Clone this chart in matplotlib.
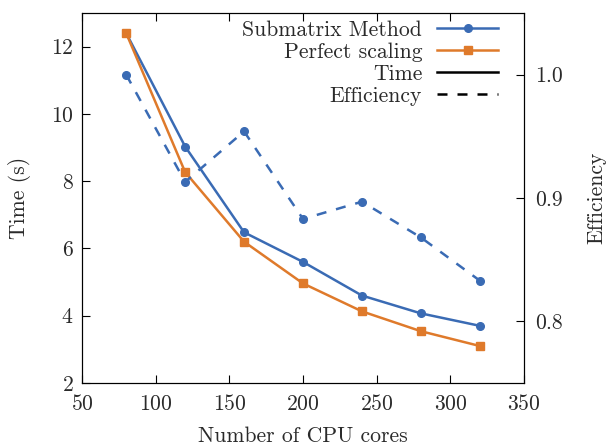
import matplotlib
matplotlib.use("Agg")
from matplotlib import pyplot as plt
from matplotlib.lines import Line2D

# Data
cores = [80, 120, 160, 200, 240, 280, 320]
time_submatrix = [12.4, 9.03, 6.48, 5.60, 4.60, 4.07, 3.70]
time_perfect = [12.4, 8.27, 6.20, 4.96, 4.13, 3.54, 3.10]
efficiency = [1.0, 0.913, 0.954, 0.883, 0.897, 0.868, 0.833]

BLUE = '#3a6bb4'
ORANGE = '#df7a2b'
TEXT = '#2a2a2a'

plt.rcParams['font.family'] = ['cmr10', 'DejaVu Serif']
plt.rcParams['axes.formatter.use_mathtext'] = True
plt.rcParams['font.size'] = 15.6
plt.rcParams['text.color'] = TEXT
plt.rcParams['axes.labelcolor'] = TEXT
plt.rcParams['xtick.labelcolor'] = TEXT
plt.rcParams['ytick.labelcolor'] = TEXT

fig = plt.figure(figsize=(6.11, 4.47), dpi=100)
ax = fig.add_axes([82 / 611, 1 - 383 / 447, (524 - 82) / 611, (383 - 13) / 447])
ax2 = ax.twinx()

# Time (left axis)
ax.plot(cores, time_submatrix, color=BLUE, lw=1.8, marker='o', ms=5.5)
ax.plot(cores, time_perfect, color=ORANGE, lw=1.8, marker='s', ms=5.5)

# Efficiency (right axis)
ax2.plot(cores, efficiency, color=BLUE, lw=1.8, marker='o', ms=5.5, dashes=(4, 4))

ax.set_xlim(50, 350)
ax.set_ylim(2, 13)
ax2.set_ylim(0.75, 1.05)
ax.set_xticks([50, 100, 150, 200, 250, 300, 350])
ax.set_yticks([2, 4, 6, 8, 10, 12])
ax2.set_yticks([0.8, 0.9, 1.0])
ax2.set_yticklabels(['0.8', '0.9', '1.0'])

ax.tick_params(axis='x', direction='in', top=True, length=6, width=0.8, pad=8)
ax.tick_params(axis='y', direction='in', right=False, length=6, width=0.8, pad=6)
ax2.tick_params(axis='y', direction='in', length=6, width=0.8, pad=8)

ax.set_xlabel('Number of CPU cores', labelpad=9)
ax.set_ylabel('Time (s)', labelpad=14)
ax2.set_ylabel('Efficiency', rotation=90, va='center', ha='center',
               rotation_mode='anchor')
ax2.yaxis.set_label_coords(1.165, 0.5)

# Legend: text on the left, sample on the right
handles = [
    Line2D([], [], color=BLUE, lw=1.8, marker='o', ms=5.5),
    Line2D([], [], color=ORANGE, lw=1.8, marker='s', ms=5.5),
    Line2D([], [], color='black', lw=1.8),
    Line2D([], [], color='black', lw=1.8, dashes=(4, 4)),
]
labels = ['Submatrix Method', 'Perfect scaling', 'Time', 'Efficiency']
ax2.legend(handles, labels, loc='upper right', markerfirst=False, frameon=False,
           bbox_to_anchor=(498 / 611, 1 - 20 / 447), bbox_transform=fig.transFigure,
           borderaxespad=0, borderpad=0, handlelength=2.8, handletextpad=0.7,
           labelspacing=0.12)

fig.savefig('out.png', dpi=100)
